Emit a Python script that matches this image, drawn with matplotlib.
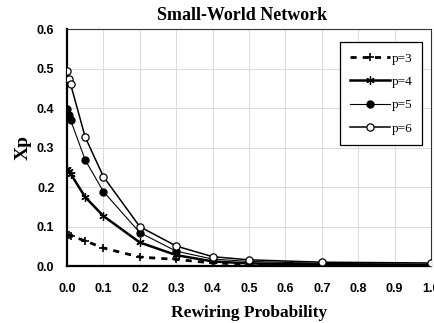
import numpy as np
import matplotlib.pyplot as plt

# rewiring probability values
rewiring = [0.0, 0.005, 0.01, 0.05, 0.1, 0.2, 0.3, 0.4, 0.5, 0.7, 1.0]

xp_p3 = [0.079, 0.078, 0.077, 0.064, 0.046, 0.023, 0.017, 0.008, 0.005, 0.003, 0.002]
xp_p4 = [0.245, 0.240, 0.234, 0.175, 0.127, 0.060, 0.028, 0.012, 0.007, 0.004, 0.002]
xp_p5 = [0.397, 0.383, 0.370, 0.269, 0.189, 0.085, 0.038, 0.018, 0.012, 0.007, 0.005]
xp_p6 = [0.495, 0.474, 0.461, 0.327, 0.227, 0.100, 0.051, 0.024, 0.016, 0.010, 0.008]

serif = ['Liberation Serif', 'DejaVu Serif']
sans = ['Liberation Sans', 'DejaVu Sans']

fig = plt.figure(figsize=(4.35, 3.23), dpi=100)
ax = fig.add_axes([0.154, 0.176, 0.837, 0.733])

ax.plot(rewiring, xp_p3, color='black', linestyle=(0, (2.2, 2.2)), linewidth=2.0,
        marker='+', markersize=6, markeredgewidth=1.2, label='p=3', zorder=3)
ax.plot(rewiring, xp_p4, color='black', linewidth=1.8,
        marker=(6, 2, 0), markersize=6, markeredgewidth=0.9, label='p=4', zorder=4)
ax.plot(rewiring, xp_p5, color='black', linewidth=0.8,
        marker='o', markersize=5, markerfacecolor='black', label='p=5', zorder=5)
ax.plot(rewiring, xp_p6, color='black', linewidth=1.1,
        marker='o', markersize=5.2, markerfacecolor='white', markeredgewidth=0.9,
        label='p=6', zorder=6)

ax.set_xlim(0, 1.0)
ax.set_ylim(0, 0.6)
ax.set_xticks(np.arange(0, 1.01, 0.1))
ax.set_yticks(np.arange(0, 0.61, 0.1))
ax.set_xticklabels([f'{v:.1f}' for v in np.arange(0, 1.01, 0.1)])
ax.set_yticklabels([f'{v:.1f}' for v in np.arange(0, 0.61, 0.1)])
for lab in ax.get_xticklabels() + ax.get_yticklabels():
    lab.set_family(sans)
    lab.set_fontweight('bold')
    lab.set_fontsize(9)
ax.tick_params(length=0)
ax.tick_params(axis='x', pad=12)
ax.tick_params(axis='y', pad=9)

ax.grid(color='#dcdcdc', linewidth=0.8)
ax.set_axisbelow(True)

ax.spines['left'].set_linewidth(1.6)
ax.spines['bottom'].set_linewidth(1.6)
ax.spines['top'].set_linewidth(0.8)
ax.spines['right'].set_linewidth(0.8)
ax.spines['top'].set_color('#333333')
ax.spines['right'].set_color('#333333')

ax.set_title('Small-World Network', family=serif, fontweight='bold', fontsize=13, pad=7, x=0.48)
ax.set_xlabel('Rewiring Probability', family=serif, fontweight='bold', fontsize=12.5, labelpad=7)
ax.set_ylabel('Xp', family=serif, fontweight='bold', fontsize=14, labelpad=4)

leg = ax.legend(loc='upper right', bbox_to_anchor=(0.976, 0.945), prop={'family': serif, 'size': 9.5},
                frameon=True, fancybox=False, edgecolor='black', framealpha=1,
                handlelength=3.0, handletextpad=0.15, labelspacing=0.85, borderpad=0.75,
                borderaxespad=0)
leg.get_frame().set_linewidth(0.9)

fig.savefig('out.png', dpi=100)
